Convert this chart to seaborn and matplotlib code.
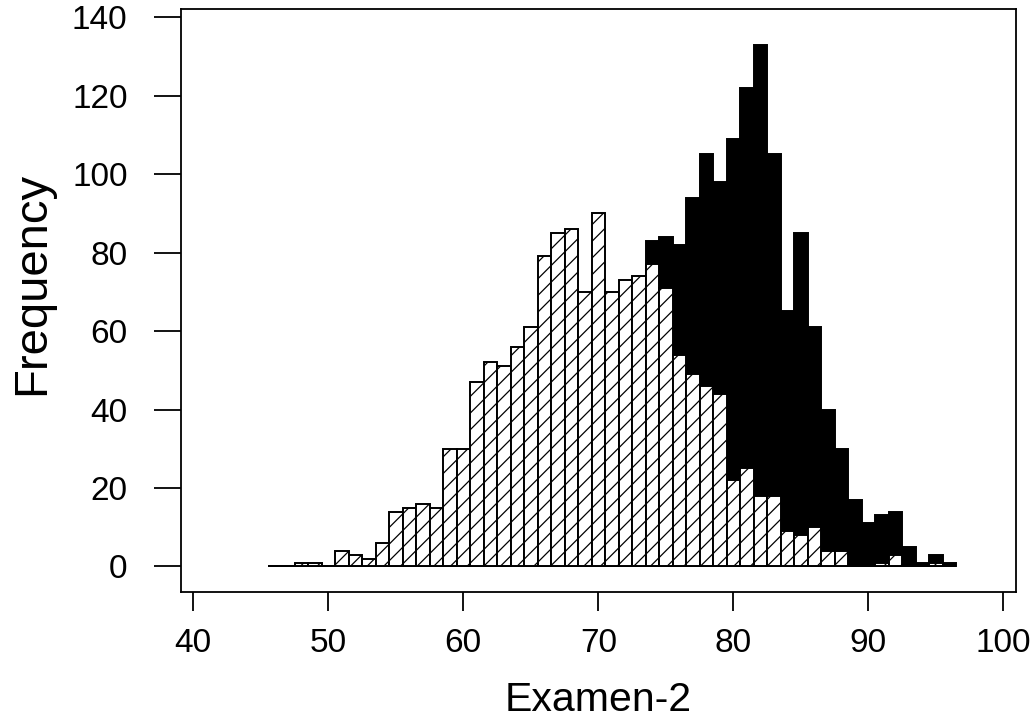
import numpy as np
import pandas as pd
import matplotlib
matplotlib.use("Agg")
import matplotlib.pyplot as plt
import seaborn as sns

# ---- data (bin centres, bin width 1) ----
bin_centers = list(range(46, 97))
hatched_counts = [0, 0, 1, 1, 0, 4, 3, 2, 6, 14,
                  15, 16, 15, 30, 30, 47, 52, 51, 56, 61,
                  79, 85, 86, 70, 90, 70, 73, 74, 77, 71,
                  54, 49, 46, 44, 22, 25, 18, 18, 9, 8,
                  10, 4, 4, 0, 0, 1, 3, 0, 0, 1, 0]
black_counts = [0, 0, 0, 0, 0, 0, 0, 0, 0, 0,
                0, 0, 0, 0, 0, 0, 0, 1, 2, 3,
                5, 8, 12, 18, 25, 35, 45, 60, 83, 84,
                82, 94, 105, 98, 109, 122, 133, 105, 65, 85,
                61, 40, 30, 17, 11, 13, 14, 5, 1, 3, 1]
x_ticks = [40, 50, 60, 70, 80, 90, 100]
y_ticks = [0, 20, 40, 60, 80, 100, 120, 140]
x_label = "Examen-2"
y_label = "Frequency"

bin_lo = bin_centers[0] - 0.5
bin_hi = bin_centers[-1] + 0.5
df = pd.DataFrame({"x": bin_centers, "black": black_counts, "hatched": hatched_counts})

sns.set_theme(style="ticks")
plt.rcParams["font.family"] = ["Liberation Sans", "DejaVu Sans"]
plt.rcParams["hatch.linewidth"] = 0.9
plt.rcParams["hatch.color"] = "black"

fig = plt.figure(figsize=(10.35, 7.21), dpi=100)
ax = fig.add_axes([181 / 1035, (721 - 592) / 721, (1016 - 181) / 1035, (592 - 9) / 721])

sns.histplot(data=df, x="x", weights="black", binwidth=1, binrange=(bin_lo, bin_hi),
             stat="count", color="black", edgecolor="black", linewidth=1.4,
             alpha=1, ax=ax)
sns.histplot(data=df, x="x", weights="hatched", binwidth=1, binrange=(bin_lo, bin_hi),
             stat="count", color="white", edgecolor="black", linewidth=1.4,
             alpha=1, hatch="//", ax=ax)

ax.set_xlim(39.09, 100.94)
ax.set_ylim(-6.5, 142.05)
ax.set_xticks(x_ticks)
ax.set_yticks(y_ticks)
ax.set_xticklabels([str(t) for t in x_ticks])
ax.set_yticklabels([str(t) for t in y_ticks])

for s in ax.spines.values():
    s.set_visible(True)
    s.set_linewidth(1.3)
    s.set_color("black")

ax.tick_params(axis="x", direction="out", length=14, width=1.3, labelsize=24,
               pad=12, colors="black")
ax.tick_params(axis="y", direction="out", length=19.5, width=1.3, labelsize=24,
               pad=19, colors="black")

ax.set_xlabel(x_label, fontsize=29.5, color="black")
ax.set_ylabel(y_label, fontsize=34, color="black")
ax.xaxis.set_label_coords(0.5, (592 - 700) / 583)
ax.xaxis.label.set_va("center")
ax.yaxis.set_label_coords((32 - 181) / 835, (592 - 283.5) / 583)
ax.yaxis.label.set_va("center")

fig.savefig("out.png", dpi=100, facecolor="white")
